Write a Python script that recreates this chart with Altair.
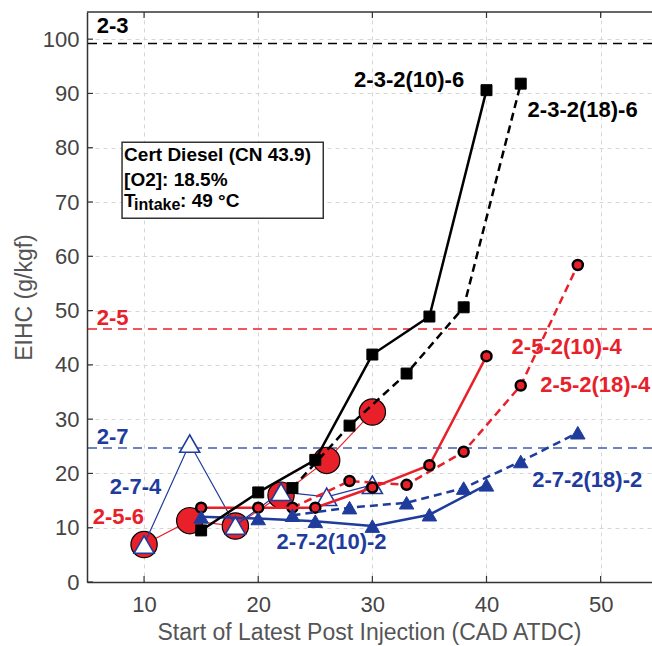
import altair as alt
import pandas as pd

# ---------------- data ----------------
x_23_10 = [15, 20, 25, 30, 35, 40]
y_23_10 = [9.5, 16.5, 22.5, 41.9, 48.9, 90.6]
x_23_18 = [23, 28, 33, 38, 43]
y_23_18 = [17.3, 28.8, 38.4, 50.6, 91.8]
x_25_10 = [15, 20, 25, 30, 35, 40]
y_25_10 = [13.7, 13.7, 13.7, 17.4, 21.5, 41.6]
x_25_18 = [23, 28, 33, 38, 43, 48]
y_25_18 = [13.7, 18.6, 17.9, 24.0, 36.2, 58.4]
x_27_10 = [15, 20, 25, 30, 35, 40]
y_27_10 = [12.0, 11.7, 11.2, 10.3, 12.4, 17.9]
x_27_18 = [23, 28, 33, 38, 43, 48]
y_27_18 = [12.3, 13.7, 14.6, 17.3, 22.2, 27.5]
x_256 = [10, 14, 18, 22, 26, 30]
y_256 = [6.9, 11.3, 10.3, 16.0, 22.4, 31.3]
x_274 = [10, 14, 18, 22, 26, 30]
y_274 = [6.9, 25.5, 10.4, 16.6, 15.7, 17.9]

baseline_names = ["2-3", "2-5", "2-7"]
baseline_values = [99.2, 46.6, 24.7]

x_ticks = [10, 20, 30, 40, 50]
y_ticks = [0, 10, 20, 30, 40, 50, 60, 70, 80, 90, 100]

label_texts = ["2-3", "2-5", "2-7", "2-3-2(10)-6", "2-3-2(18)-6", "2-5-2(10)-4",
               "2-5-2(18)-4", "2-7-2(18)-2", "2-7-2(10)-2", "2-7-4", "2-5-6"]
label_x = [5.85, 5.85, 5.85, 28.4, 43.6, 42.2, 44.7, 44.0, 21.6, 7.0, 5.5]
label_y = [102.4, 48.6, 26.7, 92.4, 86.9, 43.3, 36.3, 18.8, 7.4, 17.5, 12.0]

box_lines = ["Cert Diesel (CN 43.9)", "[O2]: 18.5%"]

# ---------------- styles ----------------
RED = "#e8202a"
BLUE = "#1f3c9c"
BLUE_LIGHT = "#3f5cb0"
BLACK = "#000000"
FONT = "Liberation Sans"
label_colors = [BLACK, RED, BLUE, BLACK, BLACK, RED, RED, BLUE, BLUE, BLUE, RED]
baseline_colors = [BLACK, RED, BLUE_LIGHT]

XD = [5, 54.5]
YD = [0, 105]


def X(field="x"):
    return alt.X(f"{field}:Q", scale=alt.Scale(domain=XD, nice=False, zero=False),
                 axis=alt.Axis(values=x_ticks, title="Start of Latest Post Injection (CAD ATDC)",
                               titleX=282, titleY=50, titleBaseline="middle"))


def Y(field="y"):
    return alt.Y(f"{field}:Q", scale=alt.Scale(domain=YD, nice=False),
                 axis=alt.Axis(values=y_ticks, title="EIHC (g/kgf)",
                               titleX=-63, titleY=285, titleAngle=270,
                               titleBaseline="middle", titleAlign="center"))


layers = []

# horizontal baselines
bdf = pd.DataFrame({"name": baseline_names, "v": baseline_values, "c": baseline_colors})
layers.append(alt.Chart(bdf).mark_rule(strokeWidth=1.5, strokeDash=[9, 6]).encode(
    y=Y("v"), color=alt.Color("c:N", scale=None)))


def series(xs, ys, color, width, shape, size, fill, stroke, sw, dash=None):
    df = pd.DataFrame({"x": xs, "y": ys})
    lk = dict(color=color, strokeWidth=width)
    if dash:
        lk["strokeDash"] = dash
    line = alt.Chart(df).mark_line(**lk).encode(x=X(), y=Y())
    pts = alt.Chart(df).mark_point(shape=shape, size=size, filled=True, fill=fill,
                                   stroke=stroke, strokeWidth=sw, opacity=1).encode(x=X(), y=Y())
    return [line, pts]


layers += series(x_256, y_256, RED, 1.2, "circle", 690, RED, BLACK, 1.2)
layers += series(x_274, y_274, BLUE, 1.2, "triangle-up", 400, "white", BLUE, 1.6)
layers += series(x_25_18, y_25_18, RED, 2.5, "circle", 100, RED, BLACK, 2.5, dash=[8, 5])
layers += series(x_25_10, y_25_10, RED, 2.5, "circle", 100, RED, BLACK, 2.5)
layers += series(x_27_18, y_27_18, BLUE, 2.5, "triangle-up", 210, BLUE, BLUE, 1, dash=[8, 5])
layers += series(x_27_10, y_27_10, BLUE, 2.5, "triangle-up", 210, BLUE, BLUE, 1)
layers += series(x_23_18, y_23_18, BLACK, 2.5, "square", 120, BLACK, BLACK, 1, dash=[8, 5])
layers += series(x_23_10, y_23_10, BLACK, 2.5, "square", 120, BLACK, BLACK, 1)

# inward ticks (MATLAB style) and top frame
xt = pd.DataFrame({"t": x_ticks})
yt = pd.DataFrame({"t": y_ticks})
layers.append(alt.Chart(xt).mark_rule(color="#333", strokeWidth=1.2).encode(
    x=X("t"), y=alt.value(570), y2=alt.value(564)))
layers.append(alt.Chart(xt).mark_rule(color="#333", strokeWidth=1.2).encode(
    x=X("t"), y=alt.value(0), y2=alt.value(6)))
layers.append(alt.Chart(yt).mark_rule(color="#333", strokeWidth=1.2).encode(
    y=Y("t"), x=alt.value(0), x2=alt.value(6)))
layers.append(alt.Chart(pd.DataFrame({"a": [0]})).mark_rule(color="#333", strokeWidth=1.5).encode(
    x=alt.value(0), x2=alt.value(565), y=alt.value(0)))

# series labels
ldf = pd.DataFrame({"text": label_texts, "x": label_x, "y": label_y, "c": label_colors})
layers.append(alt.Chart(ldf).mark_text(font=FONT, fontSize=22, fontWeight="bold",
                                       align="left", baseline="middle").encode(
    x=X(), y=Y(), text="text:N", color=alt.Color("c:N", scale=None)))

# info box
boxdf = pd.DataFrame({"x": [8.07], "x2": [25.7], "y": [81.0], "y2": [67.0]})
layers.append(alt.Chart(boxdf).mark_rect(fill="white", stroke="#333", strokeWidth=1.5).encode(
    x=X(), x2="x2:Q", y=Y(), y2="y2:Q"))
tdf = pd.DataFrame({"text": box_lines, "x": [8.25, 8.25], "y": [78.6, 74.0]})
layers.append(alt.Chart(tdf).mark_text(font=FONT, fontSize=19, fontWeight="bold", align="left",
                                       baseline="middle", color=BLACK).encode(
    x=X(), y=Y(), text="text:N"))
t3 = pd.DataFrame({"x": [8.25], "y": [70.2]})
layers.append(alt.Chart(t3).mark_text(font=FONT, fontSize=19, fontWeight="bold", align="left",
                                      baseline="middle", color=BLACK, text="T").encode(x=X(), y=Y()))
layers.append(alt.Chart(t3).mark_text(font=FONT, fontSize=16, fontWeight="bold", align="left",
                                      baseline="middle", color=BLACK, text="intake", dx=10, dy=4).encode(x=X(), y=Y()))
layers.append(alt.Chart(t3).mark_text(font=FONT, fontSize=19, fontWeight="bold", align="left",
                                      baseline="middle", color=BLACK, text=": 49 °C", dx=56).encode(x=X(), y=Y()))

chart = alt.layer(*layers).properties(
    width=565, height=570,
    autosize=alt.AutoSizeParams(type="none"),
    padding={"left": 87, "top": 12, "right": 0, "bottom": 64},
).configure_view(stroke=None).configure_axis(
    labelFont=FONT, titleFont=FONT, labelFontSize=22, titleFontSize=23,
    labelColor="#444", titleColor="#555", titleFontWeight="normal",
    domainColor="#333", domainWidth=1.5, ticks=False, tickSize=0,
    gridColor="#d6d6d6", gridDash=[4, 4], gridWidth=1, labelPadding=8,
).configure_axisX(labelPadding=12)

chart.save("out.html", embed_options={"renderer": "svg", "actions": False})
